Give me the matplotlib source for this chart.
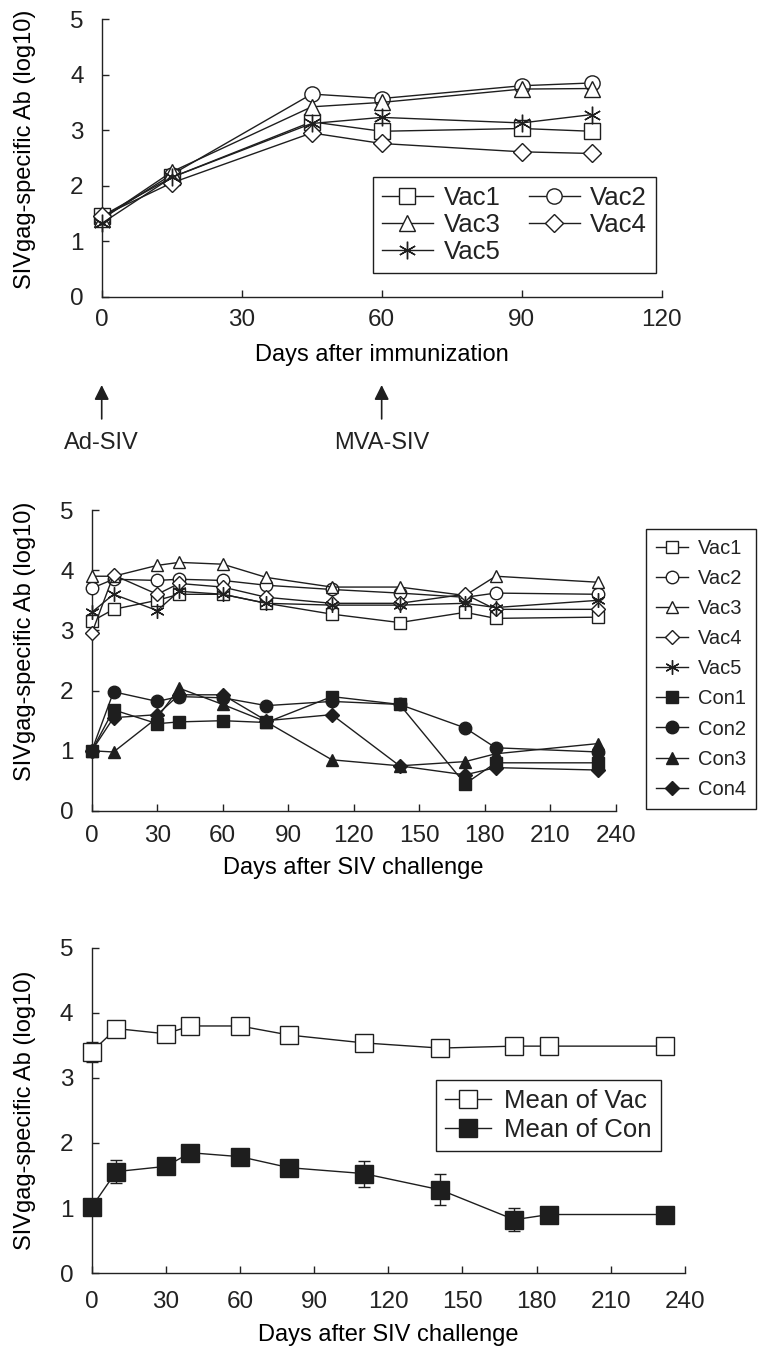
import matplotlib
matplotlib.use('Agg')
import matplotlib.pyplot as plt

plt.rcParams['font.family'] = ['Liberation Sans', 'DejaVu Sans']
plt.rcParams['text.color'] = '#222222'
plt.rcParams['axes.edgecolor'] = '#222222'
plt.rcParams['xtick.color'] = '#222222'
plt.rcParams['ytick.color'] = '#222222'

# panel 1: antibody after immunization
imm_days = [0, 15, 45, 60, 90, 105]
imm_vac = {
    'Vac1': [1.45, 2.15, 3.15, 2.98, 3.03, 2.98],
    'Vac2': [1.40, 2.20, 3.65, 3.57, 3.80, 3.85],
    'Vac3': [1.40, 2.25, 3.42, 3.50, 3.74, 3.75],
    'Vac4': [1.45, 2.05, 2.95, 2.76, 2.61, 2.58],
    'Vac5': [1.32, 2.15, 3.12, 3.23, 3.13, 3.28],
}
imm_ticks = [0, 30, 60, 90, 120]
vaccinations = [(0, 'Ad-SIV'), (60, 'MVA-SIV')]

# panel 2: individual animals after challenge
ch_days = [0, 10, 30, 40, 60, 80, 110, 141, 171, 185, 232]
ch_vac = {
    'Vac1': [3.15, 3.35, 3.50, 3.60, 3.60, 3.45, 3.27, 3.13, 3.30, 3.20, 3.22],
    'Vac2': [3.70, 3.85, 3.83, 3.85, 3.83, 3.75, 3.68, 3.62, 3.55, 3.62, 3.60],
    'Vac3': [3.90, 3.90, 4.08, 4.13, 4.10, 3.88, 3.72, 3.72, 3.58, 3.90, 3.80],
    'Vac4': [2.95, 3.92, 3.60, 3.78, 3.72, 3.55, 3.45, 3.45, 3.60, 3.35, 3.35],
    'Vac5': [3.30, 3.60, 3.33, 3.65, 3.60, 3.45, 3.42, 3.42, 3.45, 3.38, 3.50],
}
ch_con = {
    'Con1': [1.00, 1.68, 1.45, 1.48, 1.50, 1.47, 1.90, 1.77, 0.45, 0.80, 0.80],
    'Con2': [1.00, 1.98, 1.82, 1.90, 1.88, 1.75, 1.82, 1.77, 1.38, 1.05, 0.98],
    'Con3': [1.00, 0.98, 1.55, 2.04, 1.77, 1.48, 0.85, 0.75, 0.82, 0.95, 1.12],
    'Con4': [1.00, 1.55, 1.60, 1.93, 1.93, 1.50, 1.60, 0.75, 0.60, 0.72, 0.68],
}
ch_ticks = [0, 30, 60, 90, 120, 150, 180, 210, 240]

# panel 3: group means
mean_vac = [3.40, 3.76, 3.68, 3.80, 3.80, 3.66, 3.54, 3.46, 3.49, 3.49, 3.49]
err_vac = [0.16, 0.05, 0.05, 0.05, 0.05, 0.05, 0.05, 0.05, 0.05, 0.05, 0.05]
mean_con = [1.01, 1.56, 1.64, 1.85, 1.79, 1.62, 1.53, 1.28, 0.82, 0.90, 0.90]
err_con = [0.05, 0.18, 0.05, 0.05, 0.05, 0.05, 0.20, 0.24, 0.18, 0.05, 0.05]

y_ticks = [0, 1, 2, 3, 4, 5]
y_title = 'SIVgag-specific Ab (log10)'

INK = '#1e1e1e'
marker_of = {'Vac1': 's', 'Vac2': 'o', 'Vac3': '^', 'Vac4': 'D', 'Vac5': (6, 2, 0),
             'Con1': 's', 'Con2': 'o', 'Con3': '^', 'Con4': 'D'}


def style_axis(ax, xmax, xticks, xlabel, ylab_x, ylab_y, xlab_y, xpad):
    ax.set_xlim(0, xmax)
    ax.set_ylim(0, 5)
    ax.set_xticks(xticks)
    ax.set_yticks(y_ticks)
    for side in ('top', 'right'):
        ax.spines[side].set_visible(False)
    for side in ('left', 'bottom'):
        ax.spines[side].set_linewidth(1.0)
    ax.tick_params(direction='in', length=5, width=1.0, labelsize=17.5)
    ax.tick_params(axis='y', pad=13)
    ax.tick_params(axis='x', pad=xpad)
    ax.set_ylabel(y_title, fontsize=17)
    ax.yaxis.set_label_coords(ylab_x, ylab_y)
    ax.yaxis.label.set_va('center')
    ax.set_xlabel(xlabel, fontsize=17)
    ax.xaxis.set_label_coords(0.5, xlab_y)
    ax.xaxis.label.set_va('center')


def draw_series(ax, days, vals, name, size):
    m = marker_of[name]
    filled = name.startswith('Con')
    ms = size * 1.15 if m == (6, 2, 0) else (size * 0.8 if m == 'D' else size)
    ax.plot(days, vals, color=INK, lw=1.0, marker=m, ms=ms,
            mfc=INK if filled else 'white', mec=INK, mew=1.0,
            clip_on=False, zorder=3, label=name)


def frame_legend(leg):
    leg.get_frame().set_linewidth(1.0)
    leg.get_frame().set_edgecolor(INK)


fig = plt.figure(figsize=(7.67, 13.55), dpi=100)

# ---- panel 1
ax1 = fig.add_axes([0.1326, 0.781, 0.730, 0.2049])
for name, vals in imm_vac.items():
    draw_series(ax1, imm_days, vals, name, 11)
style_axis(ax1, 120, imm_ticks, 'Days after immunization', -0.137, 0.53, -0.21, 9)
for day, txt in vaccinations:
    ax1.annotate('', xy=(day, -0.318), xytext=(day, -0.44),
                 xycoords=ax1.get_xaxis_transform(), textcoords=ax1.get_xaxis_transform(),
                 arrowprops=dict(arrowstyle='-|>', color=INK, lw=1.2,
                                 mutation_scale=22, shrinkA=0, shrinkB=0),
                 annotation_clip=False)
    ax1.text(day, -0.528, txt, transform=ax1.get_xaxis_transform(),
             ha='center', va='center', fontsize=17)
h1, l1 = ax1.get_legend_handles_labels()
order = [0, 2, 4, 1, 3]
leg1 = ax1.legend([h1[i] for i in order], [l1[i] for i in order], ncol=2,
                  loc='upper left', bbox_to_anchor=(0.486, 0.8694),
                  bbox_transform=fig.transFigure, fontsize=18.5, frameon=True,
                  fancybox=False, framealpha=1, handlelength=2.0,
                  handletextpad=0.4, columnspacing=1.1, labelspacing=0.12,
                  borderpad=0.35, borderaxespad=0)
frame_legend(leg1)

# ---- panel 2
ax2 = fig.add_axes([0.1196, 0.4015, 0.6832, 0.2221])
for name, vals in ch_vac.items():
    draw_series(ax2, ch_days, vals, name, 9)
for name, vals in ch_con.items():
    draw_series(ax2, ch_days, vals, name, 9)
style_axis(ax2, 240, ch_ticks, 'Days after SIV challenge', -0.127, 0.565, -0.19, 10)
leg2 = ax2.legend(loc='upper left', bbox_to_anchor=(0.842, 0.6096),
                  bbox_transform=fig.transFigure, fontsize=14.5, frameon=True,
                  fancybox=False, framealpha=1, handlelength=1.6,
                  handletextpad=0.5, labelspacing=0.55, borderpad=0.5,
                  borderaxespad=0)
frame_legend(leg2)

# ---- panel 3
ax3 = fig.add_axes([0.1193, 0.0605, 0.7738, 0.2399])
ax3.errorbar(ch_days, mean_vac, yerr=err_vac, fmt='none', ecolor=INK,
             elinewidth=1.0, capsize=4, capthick=1.0, zorder=2, clip_on=False)
ax3.errorbar(ch_days, mean_con, yerr=err_con, fmt='none', ecolor=INK,
             elinewidth=1.0, capsize=4, capthick=1.0, zorder=2, clip_on=False)
ax3.plot(ch_days, mean_vac, color=INK, lw=1.0, marker='s', ms=12.5, mfc='white',
         mec=INK, mew=1.0, clip_on=False, zorder=3, label='Mean of Vac')
ax3.plot(ch_days, mean_con, color=INK, lw=1.0, marker='s', ms=12.5, mfc=INK,
         mec=INK, mew=1.0, clip_on=False, zorder=3, label='Mean of Con')
style_axis(ax3, 240, ch_ticks, 'Days after SIV challenge', -0.112, 0.5, -0.19, 13)
leg3 = ax3.legend(loc='upper left', bbox_to_anchor=(0.5685, 0.203),
                  bbox_transform=fig.transFigure, fontsize=18.5, frameon=True,
                  fancybox=False, framealpha=1, handlelength=1.8,
                  handletextpad=0.5, labelspacing=0.2, borderpad=0.35,
                  borderaxespad=0)
frame_legend(leg3)

fig.savefig('out.png', dpi=100, facecolor='white')
